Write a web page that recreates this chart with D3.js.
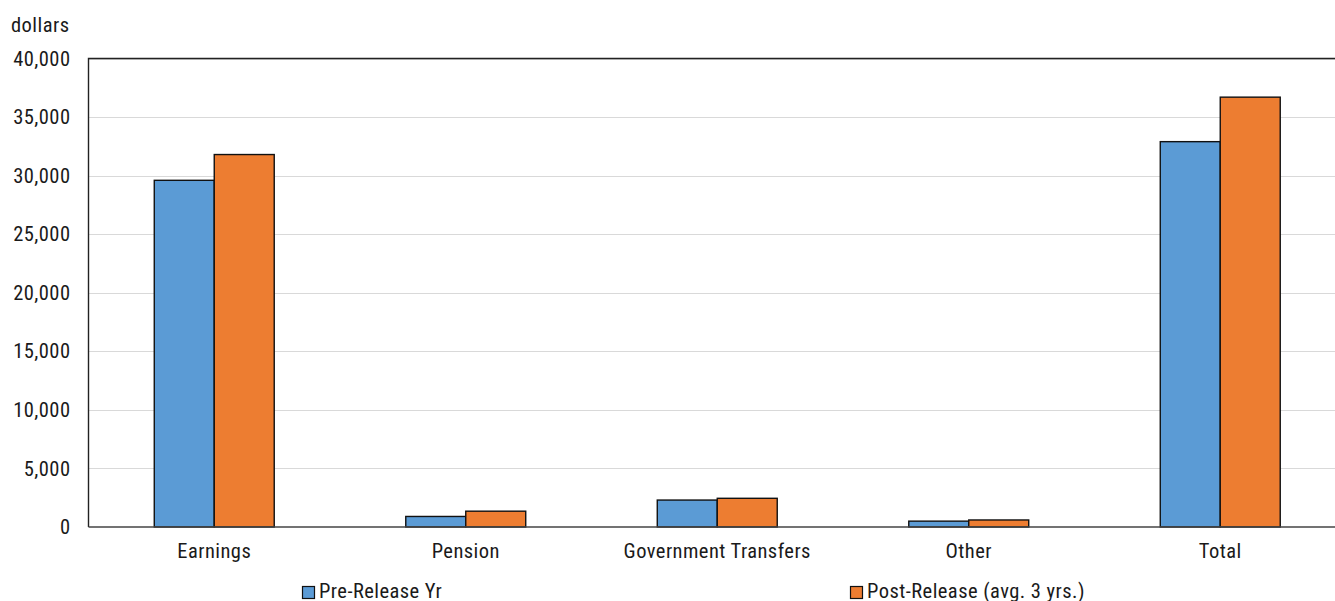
<!DOCTYPE html>
<html>
<head>
<meta charset="utf-8">
<script src="https://cdn.jsdelivr.net/npm/d3@7"></script>
<style>
  html, body { margin: 0; padding: 0; background: #fff; }
  svg { display: block; }
  text { font-family: "Liberation Sans Narrow", "Roboto Condensed", "Arial Narrow", sans-serif; fill: #1a1a1a; letter-spacing: 0.45px; }
</style>
</head>
<body>
<svg id="chart" width="1335" height="601"></svg>
<script>
const categories = ["Earnings", "Pension", "Government Transfers", "Other", "Total"];
const seriesNames = ["Pre-Release Yr", "Post-Release (avg. 3 yrs.)"];
const preRelease = [29600, 900, 2300, 500, 32900];
const postRelease = [31800, 1350, 2450, 600, 36700];
const yTicks = [0, 5000, 10000, 15000, 20000, 25000, 30000, 35000, 40000];
const colors = ["#5B9BD5", "#ED7D31"];
const fontSize = "20.5px";

const svg = d3.select("#chart");
const plotLeft = 88.5, plotRight = 1346, plotTop = 58.5, plotBottom = 527;

const y = d3.scaleLinear().domain([0, 40000]).range([plotBottom, plotTop]);
const x = d3.scaleBand().domain(categories).range([plotLeft, plotRight])
  .paddingInner(0.523).paddingOuter(0.2615);
const xs = d3.scaleBand().domain(seriesNames).range([0, x.bandwidth()]);

// gridlines
svg.append("g")
  .selectAll("line").data(yTicks.filter(d => d > 0)).join("line")
  .attr("x1", plotLeft).attr("x2", plotRight)
  .attr("y1", d => Math.round(y(d)) + 0.5).attr("y2", d => Math.round(y(d)) + 0.5)
  .attr("stroke", "#d9d9d9").attr("stroke-width", 1.2);

// y axis labels
const yAxis = d3.axisLeft(y).tickValues(yTicks).tickSize(0).tickPadding(18)
  .tickFormat(d3.format(","));
const gy = svg.append("g").attr("transform", `translate(${plotLeft},0)`).call(yAxis);
gy.select(".domain").remove();
gy.selectAll("text").style("font-size", fontSize).attr("fill", "#1a1a1a")
  .attr("font-family", null);

// bars
const series = [preRelease, postRelease];
const gBars = svg.append("g");
categories.forEach((c, i) => {
  series.forEach((vals, s) => {
    gBars.append("rect")
      .attr("x", x(c) + xs(seriesNames[s]))
      .attr("y", y(vals[i]))
      .attr("width", xs.bandwidth())
      .attr("height", plotBottom - y(vals[i]))
      .attr("fill", colors[s])
      .attr("stroke", "#111")
      .attr("stroke-width", 1.4);
  });
});

// frame: top and left border, baseline
svg.append("path")
  .attr("d", `M${plotLeft},${plotBottom}V${plotTop}H${plotRight}`)
  .attr("fill", "none").attr("stroke", "#222").attr("stroke-width", 1.4);
svg.append("line")
  .attr("x1", plotLeft).attr("x2", plotRight).attr("y1", plotBottom).attr("y2", plotBottom)
  .attr("stroke", "#444").attr("stroke-width", 1.6);

// x axis labels
const xAxis = d3.axisBottom(x).tickSize(0).tickPadding(16);
const gx = svg.append("g").attr("transform", `translate(0,${plotBottom})`).call(xAxis);
gx.select(".domain").remove();
gx.selectAll("text").style("font-size", fontSize).attr("fill", "#1a1a1a")
  .attr("font-family", null);

// unit label
svg.append("text").attr("x", 11).attr("y", 32).style("font-size", fontSize).text("dollars");

// legend
const legendX = [302, 850];
seriesNames.forEach((name, s) => {
  const g = svg.append("g").attr("transform", `translate(${legendX[s]},586)`);
  g.append("rect").attr("x", 0.5).attr("y", 0.5).attr("width", 12).attr("height", 12)
    .attr("fill", colors[s]).attr("stroke", "#111").attr("stroke-width", 1.2);
  g.append("text").attr("x", 17).attr("y", 11.5).style("font-size", fontSize).text(name);
});
</script>
</body>
</html>
